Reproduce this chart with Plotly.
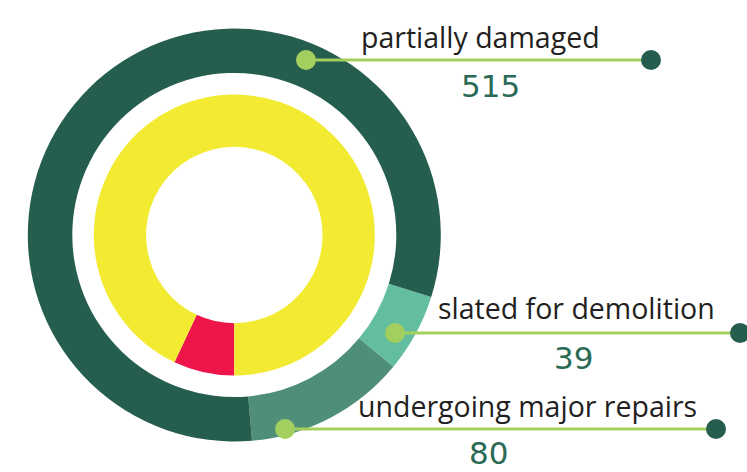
import plotly.graph_objects as go

# ---- data ----
outer_labels = ["slated for demolition", "undergoing major repairs", "partially damaged"]
outer_values = [39, 80, 515]
outer_colors = ["#62be9f", "#4f8f7a", "#255e4f"]

inner_labels = ["red share", "yellow share"]
inner_values = [7, 93]
inner_colors = ["#ed1549", "#f2eb31"]

callout_labels = ["partially damaged", "slated for demolition", "undergoing major repairs"]
callout_values = ["515", "39", "80"]

W, H = 747, 472
cx, cy = 234.3, 235.0
R_out, r_out_hole = 206.5, 162.0
R_in, r_in_hole = 140.5, 88.2


def dom(r):
    return dict(
        x=[(cx - r) / W, (cx + r) / W],
        y=[(H - cy - r) / H, (H - cy + r) / H],
    )


fig = go.Figure()
fig.add_trace(go.Pie(
    labels=outer_labels, values=outer_values, sort=False, direction="clockwise",
    rotation=107.5, hole=r_out_hole / R_out, domain=dom(R_out),
    marker=dict(colors=outer_colors, line=dict(width=0)),
    textinfo="none", showlegend=False, hoverinfo="label+value",
))
fig.add_trace(go.Pie(
    labels=inner_labels, values=inner_values, sort=False, direction="clockwise",
    rotation=180, hole=r_in_hole / R_in, domain=dom(R_in),
    marker=dict(colors=inner_colors, line=dict(width=0)),
    textinfo="none", showlegend=False, hoverinfo="label+value",
))

# callout geometry (pixel coordinates): start dot, end dot, line y, label pos, value pos
callouts = [
    dict(x0=306, x1=651, y=60, tx=480, ty=37, vx=490, vy=86),
    dict(x0=395, x1=740, y=333, tx=576, ty=308, vx=573, vy=358),
    dict(x0=285, x1=716, y=429, tx=527, ty=406, vx=488, vy=453),
]

shapes = []
annotations = []
light = "#a3cf5f"
dark = "#255e4f"
rad = 10
for c, lab, val in zip(callouts, callout_labels, callout_values):
    shapes.append(dict(type="line", xref="x", yref="y", x0=c["x0"], x1=c["x1"], y0=c["y"], y1=c["y"],
                       line=dict(color=light, width=3), layer="above"))
    shapes.append(dict(type="circle", xref="x", yref="y", x0=c["x0"] - rad, x1=c["x0"] + rad,
                       y0=c["y"] - rad, y1=c["y"] + rad, fillcolor=light, line=dict(width=0), layer="above"))
    shapes.append(dict(type="circle", xref="x", yref="y", x0=c["x1"] - rad, x1=c["x1"] + rad,
                       y0=c["y"] - rad, y1=c["y"] + rad, fillcolor=dark, line=dict(width=0), layer="above"))
    annotations.append(dict(x=c["tx"], y=c["ty"], xref="x", yref="y", text=lab, showarrow=False,
                            xanchor="center", yanchor="middle",
                            font=dict(family="Open Sans", size=28.5, color="#231f20")))
    annotations.append(dict(x=c["vx"], y=c["vy"], xref="x", yref="y", text=val, showarrow=False,
                            xanchor="center", yanchor="middle",
                            font=dict(family="DejaVu Sans", size=31, color="#2b6a55")))

fig.update_layout(
    width=W, height=H, margin=dict(l=0, r=0, t=0, b=0),
    paper_bgcolor="white", plot_bgcolor="rgba(0,0,0,0)",
    xaxis=dict(range=[0, W], visible=False, fixedrange=True),
    yaxis=dict(range=[H, 0], visible=False, fixedrange=True),
    shapes=shapes, annotations=annotations, showlegend=False,
)

fig.write_html("out.html", config={"displayModeBar": False},
               post_script="document.body.style.margin='0';")
